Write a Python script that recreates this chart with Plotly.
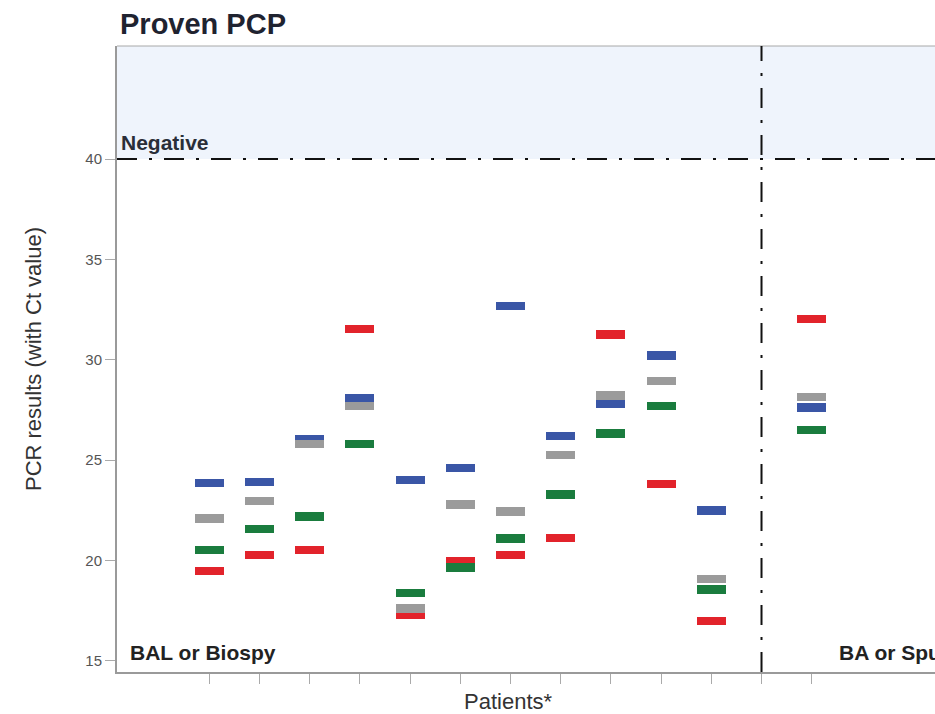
import plotly.graph_objects as go

# Patient slots on the x axis (slot 12 is the divider between specimen groups)
patients = [1, 2, 3, 4, 5, 6, 7, 8, 9, 10, 11, 13]
tick_slots = list(range(1, 14))

# Ct values per assay for each patient
ct_red = [19.48, 20.27, 20.53, 31.52, 17.31, 19.95, 20.27, 21.13, 31.26, 23.82, 16.99, 32.04]
ct_blue = [23.86, 23.91, 26.05, 28.09, 24.00, 24.60, 32.68, 26.20, 27.79, 30.22, 22.48, 27.62]
ct_green = [20.53, 21.56, 22.18, 25.80, 18.37, 19.65, 21.09, 23.29, 26.33, 27.70, 18.55, 26.50]
ct_gray = [22.09, 22.95, 25.80, 27.70, 17.60, 22.79, 22.43, 25.24, 28.22, 28.95, 19.06, 28.15]

y_ticks = [15, 20, 25, 30, 35, 40]
negative_cutoff = 40
divider_slot = 12

X_RANGE = [-0.839, 15.456]
Y_RANGE = [14.44, 45.63]
BAR_W = 0.58
BAR_H = 0.42

series = [
    ("red", ct_red, "#e2232b"),
    ("blue", ct_blue, "#3a56a6"),
    ("green", ct_green, "#1a7c3e"),
    ("gray", ct_gray, "#9b9b9b"),
]

fig = go.Figure()
for name, vals, col in series:
    fig.add_trace(go.Bar(
        x=patients,
        y=[BAR_H] * len(vals),
        base=[v - BAR_H / 2 for v in vals],
        width=BAR_W,
        marker=dict(color=col, line=dict(width=0)),
        name=name,
        showlegend=False,
        hovertext=[f"Ct {v}" for v in vals],
    ))

dashdot = "20px,12px,3px,12px"
shapes = [
    # shaded "negative" band above the cutoff
    dict(type="rect", xref="paper", yref="y", x0=0, x1=1, y0=negative_cutoff, y1=Y_RANGE[1],
         fillcolor="#eff4fc", line=dict(width=0), layer="below"),
    # top border
    dict(type="line", xref="paper", yref="paper", x0=0, x1=1, y0=1, y1=1,
         line=dict(color="#a8a8a8", width=1)),
    # cutoff line
    dict(type="line", xref="paper", yref="y", x0=0, x1=1, y0=negative_cutoff, y1=negative_cutoff,
         line=dict(color="#111111", width=2, dash=dashdot)),
    # specimen group divider
    dict(type="line", xref="x", yref="paper", x0=divider_slot, x1=divider_slot, y0=0, y1=1,
         line=dict(color="#111111", width=2, dash=dashdot)),
]

annotations = [
    dict(text="<b>Proven PCP</b>", xref="paper", yref="paper", x=0.001, y=1.0,
         xanchor="left", yanchor="bottom", yshift=4, showarrow=False,
         font=dict(family="Liberation Sans, Arial", size=29, color="#1f2330")),
    dict(text="<b>Negative</b>", xref="paper", yref="y", x=0.003, y=negative_cutoff,
         xanchor="left", yanchor="bottom", yshift=3, showarrow=False,
         font=dict(family="Liberation Sans, Arial", size=21, color="#2a2e38")),
    dict(text="<b>BAL or Biospy</b>", xref="paper", yref="paper", x=0.013, y=0,
         xanchor="left", yanchor="bottom", yshift=6, showarrow=False,
         font=dict(family="Liberation Sans, Arial", size=21, color="#222222")),
    dict(text="<b>BA or Sputum</b>", xref="x", yref="paper", x=13.5, y=0,
         xanchor="left", yanchor="bottom", yshift=6, showarrow=False,
         font=dict(family="Liberation Sans, Arial", size=21, color="#222222")),
    dict(text="Patients*", xref="paper", yref="paper", x=0.478, y=0,
         xanchor="center", yanchor="top", yshift=-15, showarrow=False,
         font=dict(family="Liberation Sans, Arial", size=22, color="#333333")),
]

fig.update_layout(
    width=935, height=714,
    margin=dict(l=117, r=0, t=46, b=42),
    paper_bgcolor="white", plot_bgcolor="white",
    barmode="overlay",
    bargap=0,
    shapes=shapes,
    annotations=annotations,
    font=dict(family="Liberation Sans, Arial", color="#333333"),
)

fig.update_xaxes(
    range=X_RANGE, tickmode="array", tickvals=tick_slots, ticktext=[""] * len(tick_slots),
    ticks="outside", ticklen=10, tickcolor="#aaaaaa", tickwidth=1,
    showline=True, linecolor="#9a9a9a", linewidth=2,
    showgrid=False, zeroline=False,
)
fig.update_yaxes(
    range=Y_RANGE, tickmode="array", tickvals=y_ticks,
    ticks="outside", ticklen=10, tickcolor="#aaaaaa", tickwidth=1,
    tickfont=dict(size=15, color="#555555"),
    showline=True, linecolor="#9a9a9a", linewidth=2,
    showgrid=False, zeroline=False,
    title=dict(text="PCR results (with Ct value)", standoff=38,
               font=dict(size=22, color="#333333")),
)

fig.write_html("out.html")
